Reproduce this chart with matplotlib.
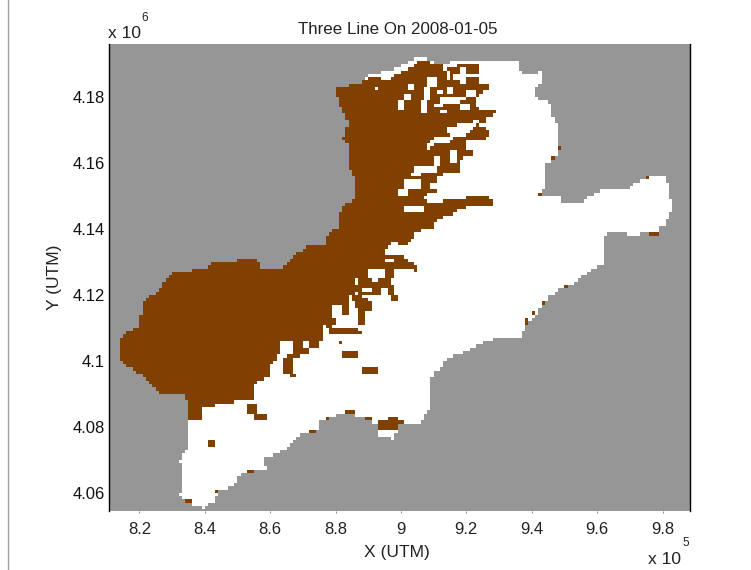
import numpy as np
import matplotlib
matplotlib.use("Agg")
import matplotlib.pyplot as plt
from matplotlib.colors import ListedColormap
from matplotlib.lines import Line2D
from matplotlib.path import Path

# Digitised map (all coordinates in UTM kilometres)
land_outline = [
 (888.4,4184.5),(889.9,4186.7),(896.7,4188.2),(899.1,4189.1),(902.8,4191.2),(905.8,4191.8),(908.3,4191.5),(909.8,4190.3),
 (918.1,4190.6),(935.5,4190.6),(935.8,4188.2),(937.3,4187.3),(940.4,4186.7),(942.5,4188.2),(943.1,4184.2),(940.4,4182.1),
 (941.9,4179.1),(946.2,4178.2),(946.5,4173.9),(948,4170.9),(948.6,4163.9),(946.5,4160.9),(944,4159.4),(944,4152.7),
 (942.5,4150.3),(949.3,4149.7),(949.6,4147.9),(955.4,4147.9),(955.7,4148.8),(957.8,4149.7),(960.3,4150.9),(960.9,4151.8),
 (969.1,4152.1),(970.7,4153.3),(973.1,4154.8),(976.2,4156.1),(980.8,4155.5),(982,4152.7),(982,4149.7),(983.2,4148.8),
 (983.2,4144.8),(981.7,4144.2),(981.4,4141.8),(979.2,4140.6),(978.6,4138.2),(974,4138.8),(969.1,4137.6),(968.5,4138.8),
 (963.9,4138.8),(961.8,4137.3),(962.1,4129.7),(959.4,4128.2),(956.9,4126.7),(953.9,4124.5),(953.3,4123),(949.6,4122.1),
 (945.6,4120),(945,4117.9),(942.5,4116.4),(941,4113.3),(938.9,4111.8),(936.4,4107),(928.8,4107),(923.3,4104.8),
 (919,4102.4),(914.1,4100.9),(912.6,4098.2),(910.4,4096.7),(908.9,4094.2),(908.9,4086),(905.8,4081.2),(899.1,4080.6),
 (898.2,4076.4),(893.6,4076.7),(892.7,4080.6),(889.9,4082.1),(885.3,4083.6),(881.4,4084.2),(875.3,4081.5),(874.3,4078.5),
 (870,4078.2),(867,4075.2),(864.6,4073),(861.5,4071.6),(857.5,4070.9),(859,4067),(851.7,4066.1),(848.3,4061.8),
 (843.8,4060.3),(843.2,4057.3),(840.7,4056.4),(840.1,4054.6),(838.6,4055.5),(834.9,4057),(832.4,4058.8),(833.1,4064.8),
 (833.4,4068.5),(831.5,4069.4),(834.9,4073),(834.6,4084.2),(834.9,4087.3),(833.4,4089.7),(826.9,4089.7),(823.3,4093.3),
 (819.6,4096.4),(816.5,4098.2),(814.1,4100.9),(814.1,4105.8),(815.6,4108.5),(819.6,4110),(819.6,4113),(821.1,4113.9),
 (821.1,4117.6),(823.9,4120),(826.9,4122.1),(827.9,4124.5),(830.3,4127),(833.4,4127),(840.7,4128.2),(842.2,4129.7),
 (849.9,4129.7),(850.2,4130.9),(855.4,4130.6),(857.5,4128.5),(863.9,4128.2),(866.1,4130.6),(869.1,4133),(871.6,4135.2),
 (876.8,4135.2),(876.8,4137.6),(880.5,4140.3),(880.5,4144.2),(883.5,4147.9),(886.3,4149.4),(886.3,4154.8),(884.4,4158.5),
 (883.8,4166.1),(882.3,4167),(883.8,4172.1),(880.5,4179.7),(879.5,4183),(885.3,4183.6),
]
snow_outline = [
 (800,4185),(879.6,4184.5),(888.6,4185.2),(893.2,4186.2),(895.7,4184.7),(898.8,4186.7),(902.9,4188.7),(906.4,4191.4),
 (909,4191.4),(909.5,4189.7),(912.5,4189.7),(913,4188.2),(917.6,4189.7),(920.2,4190.2),(923.3,4190.2),(924.3,4187.7),
 (923.3,4184.7),(927.3,4183.7),(927.3,4182.1),(923.8,4181.1),(922.7,4176.6),(929.4,4175.9),(929.4,4174.6),(926.3,4174.3),
 (925.8,4172),(921.7,4173),(923.8,4171.5),(927.3,4170),(927.3,4168.5),(924.8,4167),(919.7,4166.5),(919.7,4163.5),
 (922,4163.5),(922,4162),(918.2,4161.4),(917.6,4157.4),(914.1,4156.9),(910.5,4155.4),(911.5,4152.9),(910.5,4150.8),
 (906.9,4150.3),(908,4147.8),(916.1,4149),(925.3,4150.3),(928.4,4148.3),(928.4,4147.3),(920.2,4147.3),(920.2,4146.3),
 (917.1,4145.8),(915.6,4144.3),(911,4142.8),(909.9,4140.2),(904.8,4139.2),(902.8,4135.6),(899.2,4134.6),(897.7,4136.6),
 (894.1,4132.6),(900.2,4132.1),(905.3,4128.1),(905.3,4127.3),(898.7,4128.6),(898.2,4126),(896.7,4124.5),(898.2,4121),
 (899.7,4118),(897.2,4118.5),(895.1,4122.5),(893.1,4119.5),(886.5,4120.5),(891.1,4118),(891.1,4115.4),(889,4115.4),
 (889.3,4110.9),(887.5,4110.9),(887,4114.4),(884.4,4120.5),(883.9,4114.4),(879.8,4112.4),(879.3,4110.4),(887.5,4109.4),
 (888,4108.4),(882.4,4107.6),(878.3,4108.4),(876.5,4110.9),(875.8,4106.3),(874.8,4104.3),(871.7,4103.8),(872.2,4101.8),
 (867.1,4101.3),(867.1,4096.2),(869.1,4094.7),(866.6,4095.2),(864,4096.8),(864.6,4101.8),(863,4102.3),(860,4098.3),
 (860.5,4095.7),(856.9,4094.2),(854.8,4092.1),(854.5,4088.2),(849.3,4087.6),(845.3,4086.7),(838.6,4086.1),(838.3,4082.7),
 (836.4,4082.7),(834.9,4085.8),(800,4085),
]
gap_a = [(914.1,4171),(920.2,4172),(923.3,4171.5),(921.2,4169.5),(919.2,4168),(914.6,4168.5)]
gap_b = [(911,4168),(915.6,4167.5),(915.1,4166),(910.5,4165.5),(908,4164),(907.7,4165)]
# clear patches inside the covered area: x0, x1, y0, y1
clear_patches = [
 (908.5,911.2,4182.7,4186.2),(906.9,908.5,4179.1,4183.2),(913.6,915.1,4184.7,4187.7),(915.6,917.6,4184.7,4187.2),
 (918.2,920.2,4183.7,4188.7),(920.2,924.3,4185.7,4187.2),(913.6,916.1,4180.6,4183.2),(911,913.3,4180.9,4182.1),
 (912.5,917.6,4177.6,4179.6),(920.2,923.3,4179.6,4182.1),(917.6,920.2,4179.1,4180.1),(910,913,4176.6,4177.6),
 (905.9,907.7,4174.6,4179.1),(901.3,903,4179.1,4180.6),(899,901.3,4176.1,4178.6),(912,913.9,4174.6,4176.1),
 (917.6,920.7,4176.3,4177.6),(902.3,903.7,4181.6,4183.7),(891.6,893.2,4182,4183.2),(910.5,912,4159.4,4162),
 (914.6,917.1,4160,4163.5),(903.9,910.5,4156.9,4159.4),(903.4,905.9,4155.9,4157.4),(901.3,905.9,4151.8,4154.9),
 (899.3,901.8,4150.3,4152.4),(909,910.5,4152.3,4153.9),(901.3,906.9,4145,4146.8),(878.8,881.9,4112.9,4117),
 (886,887.3,4123.3,4125.3),(888.5,890.5,4121,4122),(890.5,894.6,4125.5,4128),(891.5,893,4124,4125.5),
 (894.6,897.7,4129.6,4130.6),(863.5,867.1,4102.3,4105.8),(870.2,871.7,4104.3,4105.8),
]
# isolated covered patches: x0, x1, y0, y1
snow_patches = [
 (888.5,892.6,4096.5,4097.8),(882.4,886.7,4101.3,4103.3),(880.6,882.4,4104.8,4106.3),(852.9,856.4,4084.1,4087.1),
 (854.9,859,4081.6,4083.6),(840.6,843.2,4073.7,4075.5),(852.6,855.4,4065.7,4066.7),(842.7,844.9,4059.7,4060.9),
 (834.5,835.5,4056.3,4057.6),(835.5,839.1,4081.6,4086.1),(834.5,835.5,4083.6,4086.1),(892.6,900.8,4079,4081.6),
 (895.7,899.2,4081.6,4083.3),(868.7,870,4075.5,4076.5),(872.2,873.7,4078.2,4078.8),(883.4,885.5,4083.6,4084.5),
 (876.8,878.3,4082.5,4083.3),(889.5,890.8,4082.1,4083.3),(831.2,832.4,4069,4069.8),(976.5,978.6,4137.9,4139.1),
 (959.7,960.9,4128.2,4129.4),(949.9,951.4,4122.2,4123),(947.9,948.7,4120.3,4121.2),(942.9,944.1,4117.3,4118.2),
 (940.5,941.3,4114.3,4115.2),(938,938.9,4111.5,4112.5),(974.4,975.9,4155.2,4155.8),(942.9,944.4,4154.6,4155.2),
 (942.3,943.2,4150.3,4151.3),(947.6,948.7,4165.8,4166.7),(947.6,948.7,4163.7,4164.5),(946.2,947.2,4161,4162),
]
x_ticks = [8.2, 8.4, 8.6, 8.8, 9.0, 9.2, 9.4, 9.6, 9.8]
x_tick_labels = ["8.2", "8.4", "8.6", "8.8", "9", "9.2", "9.4", "9.6", "9.8"]
y_ticks = [4.06, 4.08, 4.10, 4.12, 4.14, 4.16, 4.18]
y_tick_labels = ["4.06", "4.08", "4.1", "4.12", "4.14", "4.16", "4.18"]

FONT = "Liberation Sans"
W, H = 751, 570
fig = plt.figure(figsize=(W/100, H/100), dpi=100)
ax = fig.add_axes([109/W, 1-511/H, (690-109)/W, (511-43.5)/H])

xe = np.arange(810, 990, 1.0)
ye = np.arange(4054, 4198, 1.0)
xc, yc = np.meshgrid(xe[:-1]+0.5, ye[:-1]+0.5)
pts = np.column_stack([xc.ravel(), yc.ravel()])
inside = lambda poly: Path(poly + [poly[0]]).contains_points(pts).reshape(xc.shape)
box = lambda r: (xc >= r[0]) & (xc <= r[1]) & (yc >= r[2]) & (yc <= r[3])

land = inside(land_outline)
snow = inside(snow_outline) & ~inside(gap_a) & ~inside(gap_b)
for r in clear_patches:
    snow &= ~box(r)
for r in snow_patches:
    snow |= box(r)
grid = np.zeros(xc.shape, int)
grid[land] = 1
grid[land & snow] = 2

cmap = ListedColormap(["#969696", "#ffffff", "#804000"])
ax.pcolormesh(xe*1e3, ye*1e3, grid, cmap=cmap, vmin=0, vmax=2, shading="flat", antialiased=False, linewidth=0)
ax.set_xlim(810.7e3, 988.4e3)
ax.set_ylim(4054.5e3, 4196.2e3)

ax.set_xticks([t*1e5 for t in x_ticks], x_tick_labels, fontname=FONT, fontsize=12, color="#222222")
ax.set_yticks([t*1e6 for t in y_ticks], y_tick_labels, fontname=FONT, fontsize=12, color="#111111")
ax.tick_params(axis="x", length=1.5, width=0.6, pad=6.5, color="#777777")
ax.tick_params(axis="y", length=0, pad=3)
for s in ("top", "bottom"):
    ax.spines[s].set_visible(False)
for s in ("left", "right"):
    ax.spines[s].set_linewidth(1.0)

def px_text(x, y, s, size=12, **kw):
    fig.text(x/W, 1-y/H, s, fontname=FONT, fontsize=size, color="#222222", ha="center", va="center", **kw)

px_text(398, 29, "Three Line On 2008-01-05", size=12.2)
px_text(397, 552, "X (UTM)", size=12.5)
px_text(54, 277, "Y (UTM)", size=12.5, rotation=90)
px_text(124, 34, "x 10", size=12.5)
px_text(145, 18, "6", size=8.5)
px_text(665, 559, "x 10", size=12.5)
px_text(686, 543, "5", size=8.5)

fig.add_artist(Line2D([7.5/W, 7.5/W], [0, 1], color="#a0a0a0", linewidth=1.0, transform=fig.transFigure))
fig.savefig("out.png", dpi=100)
